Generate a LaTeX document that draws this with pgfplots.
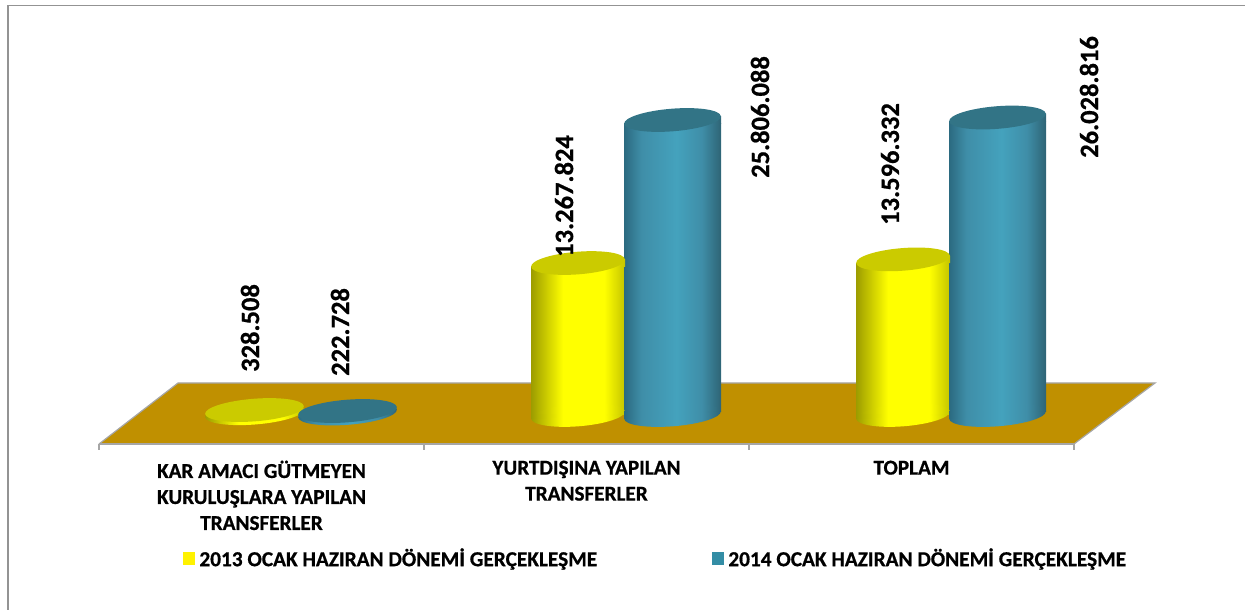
\documentclass[border=0pt]{standalone}
\usepackage{fontspec}
\setmainfont{Carlito}[BoldFeatures={FakeBold=0.7}]
\usepackage{pgfplots}
\pgfplotsset{compat=1.18}
\definecolor{floorc}{HTML}{C09000}
\definecolor{edgec}{HTML}{A6A6A6}
\definecolor{ytop}{HTML}{CBCB00}
\definecolor{btop}{HTML}{327486}
\definecolor{ya}{HTML}{9C9C00}
\definecolor{yb}{HTML}{FFFF00}
\definecolor{yc}{HTML}{C4C400}
\definecolor{ba}{HTML}{2B6A80}
\definecolor{bb}{HTML}{3F8EA8}
\definecolor{bc}{HTML}{44A2BD}
\definecolor{bd}{HTML}{2E6475}
\definecolor{legb}{HTML}{338DA5}
\pgfdeclarehorizontalshading{yelbody}{100bp}{color(0bp)=(ya); color(25bp)=(ya); color(42bp)=(yb); color(64bp)=(yb); color(75bp)=(yc); color(100bp)=(yc)}
\pgfdeclarehorizontalshading{blubody}{100bp}{color(0bp)=(ba); color(25bp)=(ba); color(34bp)=(bb); color(52bp)=(bc); color(65bp)=(bb); color(75bp)=(bd); color(100bp)=(bd)}
% tilted ellipse path: #1 centre y (pt), #2 half width along x (pt)
\newcommand\tiltell[2]{\pgfpathellipse{\pgfpoint{0pt}{#1pt}}{\pgfpoint{0.9969*#2pt}{0.0785*#2pt}}{\pgfpoint{-0.887pt}{11.265pt}}}
\newcommand\fillell[3]{\begin{pgfscope}\pgfsetfillcolor{#3}\tiltell{#1}{#2}\pgfusepath{fill}\end{pgfscope}}
\newcommand\shadeell[3]{\begin{pgfscope}\tiltell{#1}{#2}\pgfshadepath{#3}{0}\pgfusepath{discard}\end{pgfscope}}
% wedge that carries the body up to the right-hand tip of a tilted top face: #1 half width, #2 shading
\newcommand\topwedge[2]{\begin{pgfscope}\pgfpathmoveto{\pgfpoint{-#1pt}{0pt}}\pgfpathlineto{\pgfpoint{#1pt}{7.6pt}}\pgfpathlineto{\pgfpoint{#1pt}{0pt}}\pgfpathclose\pgfshadepath{#2}{0}\pgfusepath{discard}\end{pgfscope}}
\newcommand\basewedge[3]{\begin{pgfscope}\pgfpathmoveto{\pgfpoint{-#1pt}{0pt}}\pgfpathlineto{\pgfpoint{#1pt}{0pt}}\pgfpathlineto{\pgfpoint{-#1pt}{-#2pt}}\pgfpathclose\pgfshadepath{#3}{0}\pgfusepath{discard}\end{pgfscope}}
\pgfdeclareplotmark{ytopcap}{\topwedge{47}{yelbody}\fillell{3.8}{47}{ytop}}
\pgfdeclareplotmark{ybase}{\shadeell{-0.4}{47}{yelbody}\basewedge{47}{4.2}{yelbody}}
\pgfdeclareplotmark{btopcap}{\topwedge{48.5}{blubody}\fillell{3.8}{48.5}{btop}}
\pgfdeclareplotmark{bbase}{\shadeell{-3.8}{48.5}{blubody}\basewedge{48.5}{7.6}{blubody}}
\pgfdeclareplotmark{yflattop}{\fillell{-2.5}{49.5}{ytop}}
\pgfdeclareplotmark{yflatbase}{\shadeell{-2}{49.5}{yelbody}}
\pgfdeclareplotmark{bflattop}{\fillell{-2.3}{49.5}{btop}}
\pgfdeclareplotmark{bflatbase}{\shadeell{-2.3}{49.5}{blubody}}
\begin{document}
\begin{tikzpicture}
\useasboundingbox (0pt,0pt) rectangle (1245pt,610pt);
\draw[color=gray!85,line width=1.2pt] (8pt,0pt)--(8pt,604.5pt)--(1245pt,604.5pt);
\begin{axis}[
  at={(99pt,166pt)},anchor=south west,
  scale only axis,width=975pt,height=424pt,
  xmin=-0.5,xmax=2.5,ymin=-2945145,ymax=35126239,
  clip=false,axis on top,
  axis x line=bottom,axis y line=none,
  x axis line style={-,color=edgec,line width=1.2pt},
  xtick={0,1,2},
  xticklabels={{KAR AMACI GÜTMEYEN\\KURULUŞLARA YAPILAN\\TRANSFERLER},{YURTDIŞINA YAPILAN\\TRANSFERLER},{TOPLAM}},
  minor xtick={-0.5,0.5,1.5,2.5},
  tick align=outside,xtick pos=bottom,
  major tick length=0pt,minor tick length=6pt,
  major tick style={draw=none},
  minor tick style={color=edgec,line width=1.2pt},
  xticklabel style={align=center,font=\fontsize{21.2}{26}\selectfont\bfseries,yshift=-16.5pt,inner sep=0pt},
  legend columns=2,
  legend style={at={(axis description cs:0.0862,-0.2689)},anchor=west,draw=none,fill=none,inner sep=0pt,
    font=\fontsize{21.3}{24}\selectfont\bfseries,
    /tikz/every even column/.append style={column sep=113pt}},
  legend cell align=left,
  legend image code/.code={\path[draw=none,#1] (0pt,-6.5pt) rectangle (12pt,6.5pt);\path (14pt,0pt);},
]
% floor
\addplot[forget plot,fill=floorc,draw=none] coordinates {(-0.5,-2945145) (-0.2569,2532106) (2.7492,2532106) (2.5,-2945145)} --cycle;
\addplot[forget plot,color=edgec,line width=1.2pt] coordinates {(-0.5,-2945145) (-0.2569,2532106) (2.7492,2532106) (2.5,-2945145)};
% first category: nearly flat discs
\addplot[forget plot,only marks,mark=yflatbase,xshift=-7pt] coordinates {(0,0)};
\addplot[forget plot,only marks,mark=yflattop,xshift=-7pt] coordinates {(0,328508)};
\addplot[forget plot,only marks,mark=bflatbase,xshift=86pt] coordinates {(0,0)};
\addplot[forget plot,only marks,mark=bflattop,xshift=86pt] coordinates {(0,222728)};
% 2013 series
\addplot[forget plot,only marks,mark=ybase,xshift=-8.5pt,yshift=-3.4pt] coordinates {(1,0) (2,0)};
\addplot[forget plot,ybar,bar width=94pt,bar shift=0pt,xshift=-8.5pt,yshift=-3.4pt,draw=none,shading=yelbody] coordinates {(1,13267824)};
\addplot[forget plot,ybar,bar width=94pt,bar shift=0pt,xshift=-8.5pt,yshift=-3.4pt,draw=none,shading=yelbody] coordinates {(2,13596332)};
\addplot[forget plot,only marks,mark=ytopcap,xshift=-8.5pt,yshift=-3.4pt] coordinates {(1,13267824) (2,13596332)};
% 2014 series
\addplot[forget plot,only marks,mark=bbase,xshift=86pt] coordinates {(1,0) (2,0)};
\addplot[forget plot,ybar,bar width=97pt,bar shift=0pt,xshift=86pt,draw=none,shading=blubody] coordinates {(1,25806088)};
\addplot[forget plot,ybar,bar width=97pt,bar shift=0pt,xshift=86pt,draw=none,shading=blubody] coordinates {(2,26028816)};
\addplot[forget plot,only marks,mark=btopcap,xshift=86pt] coordinates {(1,25806088) (2,26028816)};
\addlegendimage{fill=yellow}
\addlegendentry{2013 OCAK HAZIRAN DÖNEMİ GERÇEKLEŞME}
\addlegendimage{fill=legb}
\addlegendentry{2014 OCAK HAZIRAN DÖNEMİ GERÇEKLEŞME}
% value labels
\addplot[forget plot,draw=none,mark=none,point meta=explicit symbolic,nodes near coords,
  nodes near coords style={rotate=90,anchor=center,inner sep=0pt,font=\fontsize{26.5}{26.5}\selectfont\bfseries}]
  table[meta=lab] {
x y lab
-0.0354 7470611 328.508
0.2415 7111447 222.728
0.9308 19323023 13.267.824
1.5338 26416512 25.806.088
1.9338 22196335 13.596.332
2.5462 28212332 26.028.816
};
\end{axis}
\end{tikzpicture}
\end{document}
